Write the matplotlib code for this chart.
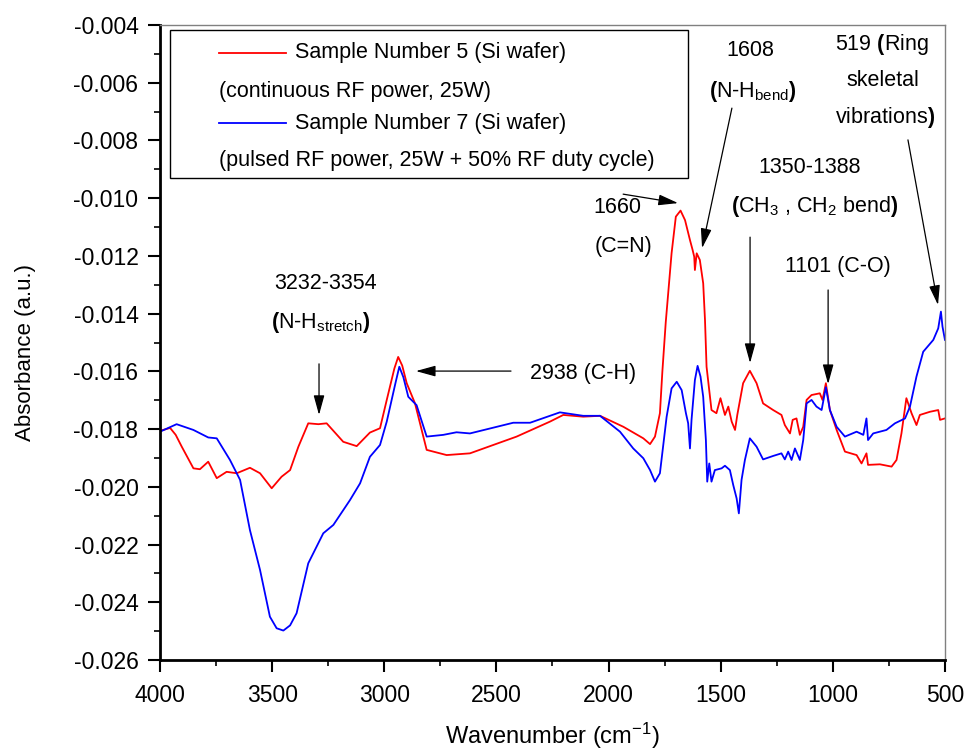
import matplotlib
matplotlib.use("Agg")
import matplotlib.pyplot as plt
from matplotlib.ticker import MultipleLocator, FormatStrFormatter
from matplotlib.lines import Line2D
from matplotlib.patches import Rectangle

plt.rcParams['font.family'] = ['Liberation Sans', 'DejaVu Sans']
plt.rcParams['axes.unicode_minus'] = False
plt.rcParams['mathtext.fontset'] = 'custom'
plt.rcParams['mathtext.rm'] = 'Liberation Sans'
plt.rcParams['mathtext.it'] = 'Liberation Sans'
plt.rcParams['mathtext.bf'] = 'Liberation Sans:bold'

# ---- Data ----
x_s5 = [4000, 3955, 3930, 3903, 3851, 3822, 3785, 3747, 3703, 3658, 3599, 3554, 3502, 3458,
        3420, 3383, 3339, 3294, 3257, 3183, 3123, 3064, 3019, 2989, 2955, 2938, 2920, 2900, 2863,
        2811, 2722, 2618, 2410, 2261, 2202, 2113, 2038, 1934, 1845, 1815, 1793, 1771,
        1760, 1745, 1719, 1700, 1679, 1659, 1637, 1625, 1618, 1615, 1607, 1593, 1578,
        1570, 1563, 1541, 1519, 1501, 1481, 1466, 1451, 1436, 1426, 1400, 1370, 1340,
        1311, 1266, 1229, 1214, 1191, 1179, 1162, 1147, 1132, 1117, 1095, 1058, 1046,
        1031, 1013, 983, 946, 894, 872, 850, 843, 790, 738, 716, 694, 672, 649, 627,
        612, 567, 530, 522, 500]
y_s5 = [-0.01806, -0.01796, -0.01820, -0.01861, -0.01936, -0.01939, -0.01913, -0.01970, -0.01948,
        -0.01953, -0.01934, -0.01953, -0.02005, -0.01965, -0.01942, -0.01861, -0.01780,
        -0.01783, -0.01780, -0.01844, -0.01859, -0.01812, -0.01797, -0.01699, -0.01590, -0.01550,
        -0.01580, -0.01641, -0.01711, -0.01872, -0.01890, -0.01884, -0.01826, -0.01774, -0.01751,
        -0.01757, -0.01754, -0.01792, -0.01832, -0.01852, -0.01826, -0.01745, -0.01600,
        -0.01430, -0.01191, -0.01064, -0.01043, -0.01076, -0.01145, -0.01180, -0.01203,
        -0.01249, -0.01191, -0.01214, -0.01295, -0.01422, -0.01584, -0.01734, -0.01745,
        -0.01693, -0.01751, -0.01722, -0.01774, -0.01803, -0.01751, -0.01641, -0.01598,
        -0.01641, -0.01711, -0.01734, -0.01751, -0.01786, -0.01815, -0.01768, -0.01763,
        -0.01820, -0.01792, -0.01699, -0.01682, -0.01676, -0.01699, -0.01641, -0.01734,
        -0.01803, -0.01878, -0.01890, -0.01919, -0.01884, -0.01924, -0.01922, -0.01930,
        -0.01907, -0.01815, -0.01693, -0.01745, -0.01786, -0.01751, -0.01740, -0.01734,
        -0.01768, -0.01763]

x_s7 = [4000, 3926, 3851, 3785, 3747, 3688, 3643, 3599, 3554, 3510, 3480, 3450, 3420, 3391, 3339,
        3272, 3227, 3153, 3108, 3064, 3019, 2989, 2950, 2933, 2915, 2893, 2856, 2811, 2737, 2678,
        2618, 2425, 2350, 2217, 2113, 2038, 1949, 1890, 1845, 1815, 1793, 1771, 1741,
        1719, 1696, 1674, 1655, 1645, 1637, 1630, 1615, 1603, 1590, 1578, 1566, 1560,
        1551, 1541, 1526, 1496, 1481, 1459, 1444, 1429, 1419, 1407, 1392, 1370, 1340,
        1311, 1266, 1229, 1214, 1199, 1184, 1169, 1147, 1132, 1117, 1095, 1073, 1050,
        1031, 1013, 983, 946, 894, 864, 850, 843, 820, 761, 723, 678, 656, 627, 597,
        552, 530, 518, 511, 500]
y_s7 = [-0.01809, -0.01783, -0.01803, -0.01829, -0.01832, -0.01907, -0.01976, -0.02150,
        -0.02288, -0.02450, -0.02490, -0.02498, -0.02480, -0.02438, -0.02265, -0.02161, -0.02132, -0.02046,
        -0.01988, -0.01896, -0.01855, -0.01774, -0.01640, -0.01584, -0.01620, -0.01688, -0.01717, -0.01826,
        -0.01820, -0.01811, -0.01815, -0.01778, -0.01778, -0.01742, -0.01754, -0.01754,
        -0.01809, -0.01867, -0.01901, -0.01942, -0.01982, -0.01953, -0.01757, -0.01659,
        -0.01636, -0.01665, -0.01745, -0.01780, -0.01867, -0.01768, -0.01630, -0.01581,
        -0.01618, -0.01688, -0.01838, -0.01982, -0.01919, -0.01982, -0.01942, -0.01936,
        -0.01927, -0.01942, -0.01994, -0.02040, -0.02092, -0.01976, -0.01907, -0.01832,
        -0.01861, -0.01905, -0.01893, -0.01884, -0.01905, -0.01878, -0.01907, -0.01867,
        -0.01907, -0.01838, -0.01711, -0.01699, -0.01722, -0.01734, -0.01655, -0.01734,
        -0.01792, -0.01826, -0.01809, -0.01820, -0.01763, -0.01838, -0.01815, -0.01803,
        -0.01780, -0.01763, -0.01722, -0.01618, -0.01532, -0.01491, -0.01451, -0.01393,
        -0.01445, -0.01491]

legend_labels = ["Sample Number 5 (Si wafer)", "(continuous RF power, 25W)",
                 "Sample Number 7 (Si wafer)", "(pulsed RF power, 25W + 50% RF duty cycle)"]

fig = plt.figure(figsize=(9.68, 7.53), dpi=100)
ax = fig.add_axes([0.1653, 0.1235, 0.8109, 0.8433])

ax.plot(x_s5, y_s5, color='#ff0000', lw=1.3)
ax.plot(x_s7, y_s7, color='#0000ff', lw=1.3)

ax.set_xlim(4000, 500)
ax.set_ylim(-0.026, -0.004)
ax.xaxis.set_major_locator(MultipleLocator(500))
ax.xaxis.set_minor_locator(MultipleLocator(250))
ax.yaxis.set_major_locator(MultipleLocator(0.002))
ax.yaxis.set_minor_locator(MultipleLocator(0.001))
ax.yaxis.set_major_formatter(FormatStrFormatter('%.3f'))
ax.tick_params(which='major', direction='out', length=8.5, width=1.5, labelsize=16.5)
ax.tick_params(axis='y', which='major', pad=7)
ax.tick_params(axis='x', which='major', pad=9)
ax.tick_params(which='minor', direction='out', length=4.3, width=1.2)
for s in ['left', 'bottom']:
    ax.spines[s].set_linewidth(2)
    ax.spines[s].set_color('black')
for s in ['top', 'right']:
    ax.spines[s].set_linewidth(1)
    ax.spines[s].set_color('#808080')

ax.set_xlabel(r"Wavenumber (cm$^{\mathrm{-1}}$)", fontsize=17, labelpad=10)
ax.set_ylabel("Absorbance (a.u.)", fontsize=16)
ax.yaxis.set_label_coords(-0.158, 0.485)

# ---- Legend box (axes coordinates) ----
ax.add_patch(Rectangle((0.0127, 0.759), 0.660, 0.233, transform=ax.transAxes,
                       fill=False, edgecolor='black', lw=1, zorder=5))
ax.add_line(Line2D([0.075, 0.161], [0.956, 0.956], transform=ax.transAxes, color='#ff0000', lw=1.3))
ax.add_line(Line2D([0.075, 0.161], [0.845, 0.845], transform=ax.transAxes, color='#0000ff', lw=1.3))
lt = dict(transform=ax.transAxes, fontsize=15.5, va='center', ha='left')
ax.text(0.172, 0.956, legend_labels[0], **lt)
ax.text(0.075, 0.895, legend_labels[1], **lt)
ax.text(0.172, 0.845, legend_labels[2], **lt)
ax.text(0.075, 0.786, legend_labels[3], **lt)

# ---- Annotations (data coordinates) ----
fs = 15.5
aprops = dict(arrowstyle='-|>,head_length=0.8,head_width=0.22', color='black', lw=0.9,
              mutation_scale=15, shrinkA=0, shrinkB=0)

ax.text(3264, -0.01294, "3232-3354", fontsize=fs, ha='center', va='center')
ax.text(3285, -0.01429, r"$\mathbf{(}$N-H$_{\mathrm{stretch}}$$\mathbf{)}$", fontsize=fs, ha='center', va='center')
ax.annotate("", xy=(3291, -0.01751), xytext=(3291, -0.01574), arrowprops=aprops)

ax.text(2114, -0.01606, "2938 (C-H)", fontsize=fs, ha='center', va='center')
ax.annotate("", xy=(2859, -0.01599), xytext=(2435, -0.01599), arrowprops=aprops)

ax.text(1962, -0.01034, "1660", fontsize=fs, ha='center', va='center')
ax.text(1935, -0.01169, "(C=N)", fontsize=fs, ha='center', va='center')
ax.annotate("", xy=(1690, -0.01017), xytext=(1935, -0.00986), arrowprops=aprops)

ax.text(1369, -0.00490, "1608", fontsize=fs, ha='center', va='center')
ax.text(1356, -0.00632, r"$\mathbf{(}$N-H$_{\mathrm{bend}}$$\mathbf{)}$", fontsize=fs, ha='center', va='center')
ax.annotate("", xy=(1583, -0.01173), xytext=(1450, -0.00688), arrowprops=aprops)

ax.text(1102, -0.00895, "1350-1388", fontsize=fs, ha='center', va='center')
ax.text(1079, -0.01030, r"$\mathbf{(}$CH$_3$ , CH$_2$ bend$\mathbf{)}$", fontsize=fs, ha='center', va='center')
ax.annotate("", xy=(1369, -0.01571), xytext=(1369, -0.01135), arrowprops=aprops)

ax.text(977, -0.01238, "1101 (C-O)", fontsize=fs, ha='center', va='center')
ax.annotate("", xy=(1021, -0.01644), xytext=(1021, -0.01318), arrowprops=aprops)

ax.text(781, -0.00466, r"519 $\mathbf{(}$Ring", fontsize=fs, ha='center', va='center')
ax.text(776, -0.00591, "skeletal", fontsize=fs, ha='center', va='center')
ax.text(767, -0.00719, r"vibrations$\mathbf{)}$", fontsize=fs, ha='center', va='center')
ax.annotate("", xy=(531, -0.01370), xytext=(665, -0.00798), arrowprops=aprops)

fig.savefig("out.png", dpi=100)
